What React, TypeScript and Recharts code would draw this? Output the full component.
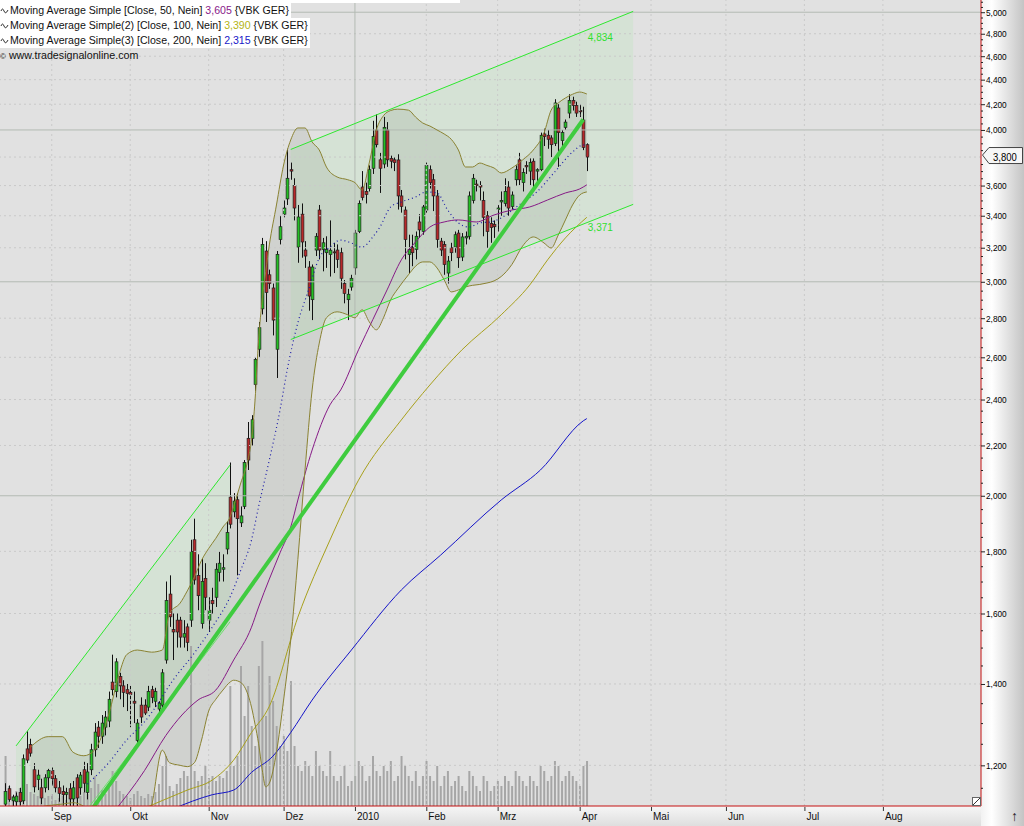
import React from 'react'
import {
  ComposedChart,
  Bar,
  Line,
  Area,
  XAxis,
  YAxis,
  ReferenceLine,
  ReferenceDot,
} from 'recharts'

if (typeof document !== 'undefined') document.body.style.margin = '0'

// time axis: one slot per trading day, Aug 2009 .. Aug 2010 (future months stay empty)
const SLOTS = 275
const FIRST = 1

// daily candles (EUR)
const opens = [
  1115, 1148, 1122, 1120, 1140, 1122, 1238, 1248, 1190, 1168,
  1150, 1150, 1172, 1188, 1170, 1150, 1142, 1136, 1148, 1126,
  1172, 1150, 1190, 1140, 1190, 1236, 1290, 1268, 1290, 1305,
  1405, 1380, 1420, 1395, 1385, 1378, 1355, 1258, 1345, 1345,
  1340, 1385, 1355, 1335, 1345, 1465, 1660, 1552, 1580, 1580,
  1530, 1560, 1580, 1840, 1720, 1570, 1710, 1580, 1640, 1650,
  1730, 1740, 1808, 1995, 1940, 1985, 1900, 1960, 2230, 2230,
  2470, 2640, 2850, 3180, 3040, 2965, 2640, 3250, 3410, 3510,
  3710, 3600, 3204, 3410, 3186, 3085, 2900, 3186, 3437, 3190,
  3170, 3160, 3175, 3186, 3170, 2990, 2900, 2970, 3080, 3300,
  3590, 3560, 3580, 3720, 4000, 3780, 3750, 4000, 3790, 3780,
  3779, 3530, 3437, 3160, 3200, 3190, 3360, 3300, 3437, 3710,
  3640, 3530, 3240, 3220, 3050, 3200, 3204, 3290, 3144, 3260,
  3270, 3500, 3610, 3600, 3500, 3400, 3350, 3345, 3440, 3490,
  3480, 3590, 3460, 3640, 3780, 3620, 3740, 3700, 3770, 3700,
  3710, 3970, 3960, 3940, 3900, 4170, 3920, 4020, 4130, 4230,
  4190, 4150, 4076, 3890,
]
const highs = [
  1160, 1155, 1135, 1140, 1150, 1225, 1280, 1262, 1205, 1190,
  1170, 1180, 1192, 1195, 1178, 1165, 1155, 1150, 1160, 1165,
  1180, 1185, 1208, 1205, 1250, 1300, 1305, 1320, 1330, 1380,
  1480, 1470, 1430, 1410, 1400, 1395, 1380, 1310, 1365, 1360,
  1395, 1395, 1390, 1355, 1440, 1700, 1720, 1600, 1600, 1590,
  1580, 1570, 1840, 1915, 1790, 1775, 1760, 1650, 1680, 1760,
  1800, 1790, 1905, 2130, 2010, 2010, 1960, 2140, 2300, 2330,
  2600, 2780, 3260, 3240, 3070, 2990, 3180, 3400, 3500, 3860,
  3760, 3650, 3470, 3480, 3240, 3120, 3100, 3290, 3470, 3260,
  3270, 3370, 3230, 3220, 3200, 3010, 2960, 3040, 3310, 3500,
  3700, 3620, 3740, 4070, 4120, 3830, 4100, 4060, 3810, 3800,
  3820, 3570, 3460, 3280, 3280, 3300, 3410, 3470, 3760, 3740,
  3680, 3570, 3260, 3240, 3150, 3230, 3300, 3310, 3290, 3300,
  3560, 3680, 3640, 3630, 3560, 3430, 3390, 3370, 3470, 3560,
  3650, 3630, 3560, 3740, 3830, 3720, 3770, 3790, 3790, 3720,
  3980, 4010, 4000, 3960, 4240, 4200, 4000, 4080, 4280, 4260,
  4220, 4200, 4180, 3900,
]
const lows = [
  1108, 1120, 1110, 1110, 1112, 1115, 1205, 1220, 1140, 1145,
  1115, 1140, 1145, 1155, 1140, 1120, 1112, 1110, 1108, 1108,
  1110, 1135, 1140, 1125, 1178, 1220, 1240, 1250, 1270, 1290,
  1370, 1365, 1360, 1340, 1330, 1290, 1300, 1250, 1300, 1320,
  1330, 1350, 1340, 1315, 1330, 1455, 1560, 1465, 1500, 1500,
  1500, 1490, 1560, 1690, 1610, 1555, 1610, 1545, 1600, 1620,
  1700, 1700, 1790, 1880, 1920, 1720, 1885, 1950, 2100, 2200,
  2440, 2600, 2820, 2780, 2960, 2710, 2500, 3220, 3390, 3470,
  3640, 3370, 3110, 3140, 3080, 2840, 2790, 3150, 3130, 3060,
  3080, 3030, 3050, 3080, 2960, 2880, 2790, 2950, 3040, 3290,
  3500, 3480, 3560, 3680, 3870, 3550, 3720, 3730, 3720, 3700,
  3440, 3420, 3130, 3050, 3090, 3130, 3260, 3280, 3420, 3580,
  3430, 3200, 3150, 3040, 2990, 3120, 3170, 3080, 3120, 3220,
  3250, 3480, 3560, 3500, 3270, 3200, 3230, 3260, 3300, 3400,
  3460, 3400, 3440, 3600, 3600, 3560, 3680, 3600, 3580, 3600,
  3700, 3880, 3860, 3800, 3880, 3730, 3880, 4000, 4090, 4150,
  4100, 4100, 3850, 3700,
]
const closes = [
  1142, 1125, 1130, 1132, 1120, 1215, 1212, 1228, 1152, 1178,
  1128, 1172, 1188, 1170, 1150, 1138, 1135, 1140, 1126, 1150,
  1128, 1178, 1160, 1185, 1236, 1278, 1268, 1300, 1315, 1360,
  1385, 1460, 1395, 1378, 1375, 1372, 1350, 1300, 1315, 1325,
  1380, 1365, 1380, 1350, 1430, 1640, 1590, 1545, 1545, 1530,
  1540, 1515, 1800, 1705, 1655, 1700, 1650, 1610, 1630, 1740,
  1760, 1745, 1865, 1895, 1980, 1915, 1925, 2130, 2140, 2310,
  2590, 2750, 3220, 2940, 2990, 2790, 3160, 3330, 3450, 3650,
  3700, 3450, 3392, 3235, 3150, 2920, 3085, 3270, 3186, 3230,
  3190, 3185, 3170, 3130, 3020, 2935, 2930, 3020, 3290, 3480,
  3520, 3540, 3710, 3950, 3890, 3720, 4020, 3780, 3770, 3760,
  3530, 3460, 3250, 3190, 3170, 3270, 3310, 3457, 3740, 3620,
  3530, 3250, 3186, 3100, 3120, 3170, 3280, 3140, 3266, 3270,
  3530, 3650, 3600, 3590, 3390, 3300, 3325, 3330, 3450, 3500,
  3560, 3450, 3536, 3710, 3640, 3690, 3730, 3760, 3640, 3710,
  3960, 3950, 3930, 3890, 4210, 3980, 3980, 4060, 4230, 4190,
  4130, 4140, 3870, 3800,
]
// volume, thousand shares
const volumes = [
  50, 20, 10, 15, 18, 25, 22, 14, 12, 10,
  15, 8, 10, 12, 6, 8, 10, 6, 12, 8,
  15, 10, 14, 12, 18, 30, 22, 16, 12, 20,
  35, 25, 15, 12, 10, 8, 12, 15, 10, 8,
  12, 10, 14, 22, 40, 50, 20, 15, 22, 28,
  35, 30, 160, 35, 25, 30, 40, 28, 30, 25,
  30, 28, 35, 120, 40, 50, 140, 90, 120, 80,
  60, 140, 165, 90, 130, 105, 80, 60, 70, 55,
  125, 60, 40, 35, 45, 40, 30, 55, 40, 35,
  30, 55, 30, 25, 30, 40, 20, 25, 30, 45,
  40, 25, 30, 50, 35, 30, 40, 35, 45, 25,
  30, 50, 40, 30, 25, 35, 20, 30, 45, 30,
  25, 40, 20, 30, 35, 20, 25, 30, 20, 15,
  35, 30, 20, 15, 30, 25, 15, 20, 25, 20,
  30, 25, 20, 35, 30, 25, 20, 30, 25, 20,
  40, 35, 25, 30, 45, 40, 25, 30, 35, 30,
  25, 20, 40, 45,
]

// Bollinger bands, sampled at these slots
const bbIdx = [
  8, 13, 17, 20, 23, 26, 30, 33, 35, 38, 40, 42, 45, 47, 50, 52, 54, 56, 58, 60,
  62, 64, 65, 67, 69, 70, 71, 72, 73, 74, 75, 77, 79, 81, 83, 85, 87, 89, 91, 94,
  97, 99, 101, 103, 105, 107, 109, 111, 114, 116, 118, 120, 122, 124, 126, 128, 130, 132, 134, 136,
  138, 140, 143, 146, 149, 152, 154, 156, 158, 160, 162, 164,
]
const bbUpper = [
  1242, 1267, 1267, 1230, 1222, 1235, 1322, 1430, 1480, 1493, 1490, 1487, 1493, 1600, 1632, 1670, 1715, 1770, 1810, 1845,
  1885, 1921, 1960, 2049, 2140, 2223, 2398, 2688, 2899, 3060, 3217, 3470, 3743, 3925, 4015, 4015, 3910, 3851, 3729, 3659,
  3640, 3620, 3570, 3757, 4000, 4110, 4150, 4161, 4153, 4099, 4053, 4030, 4000, 3970, 3930, 3851, 3729, 3729, 3757, 3740,
  3722, 3687, 3722, 3779, 3851, 3977, 4153, 4210, 4250, 4280, 4298, 4282,
]
const bbLower = [
  1105, 1112, 1115, 1118, 1110, 1090, 1040, 1010, 1000, 1020, 1060, 1111, 1235, 1206, 1200, 1197, 1206, 1259, 1330, 1360,
  1384, 1405, 1410, 1404, 1372, 1340, 1297, 1250, 1190, 1152, 1160, 1230, 1358, 1521, 1773, 2100, 2444, 2671, 2802, 2834,
  2818, 2802, 2845, 2781, 2739, 2802, 2899, 2960, 3040, 3090, 3115, 3115, 3080, 3011, 2943, 2954, 2971, 2980, 2985, 2993,
  3005, 3030, 3100, 3210, 3266, 3229, 3198, 3278, 3373, 3470, 3536, 3557,
]
const bbMidIdx = [
  24, 30, 35, 40, 42, 48, 54, 59, 64, 67, 70, 72, 75, 78, 80, 83, 86, 89, 92, 95,
  98, 101, 104, 106, 109, 112, 116, 119, 122, 125, 128, 131, 134, 137, 140, 145, 150, 155, 160, 163, 164,
]
const bbMid = [
  1158, 1206, 1259, 1303, 1326, 1410, 1485, 1559, 1651, 1737, 1839, 1960, 2140, 2353, 2538, 2776, 2954, 3139, 3204, 3247,
  3229, 3204, 3266, 3328, 3457, 3490, 3523, 3557, 3550, 3437, 3354, 3328, 3354, 3360, 3386, 3470, 3557, 3694, 3836, 3888, 3873,
]

// simple moving averages 50 / 100 / 200
const ma50Idx = [31, 40, 46, 55, 60, 65, 70, 72, 78, 81, 83, 87, 92, 95, 100, 104, 108, 112, 116, 120, 124, 128, 133, 138, 143, 148, 153, 158, 162, 164]
const ma50 = [1095, 1188, 1270, 1358, 1384, 1465, 1559, 1620, 1795, 1885, 1984, 2181, 2376, 2444, 2637, 2792, 2954, 3127, 3235, 3328, 3360, 3373, 3360, 3405, 3437, 3457, 3503, 3550, 3577, 3605]
const ma100Idx = [38, 52, 59, 65, 70, 75, 83, 92, 100, 112, 120, 129, 140, 148, 153, 158, 164]
const ma100 = [1100, 1145, 1167, 1212, 1277, 1342, 1589, 1839, 2060, 2309, 2467, 2637, 2818, 2982, 3127, 3260, 3390]
const ma200Idx = [48, 59, 65, 70, 76, 81, 87, 98, 112, 123, 140, 151, 163, 164]
const ma200 = [1105, 1135, 1145, 1184, 1221, 1277, 1358, 1493, 1673, 1787, 1984, 2100, 2305, 2315]

// hand drawn trend channels and trend line (two anchor points each)
const channelAIdx = [4, 64]
const channelAUpper = [1245, 2120]
const channelALower = [925, 1575]
const channelBIdx = [81, 177]
const channelBUpper = [3855, 5008]
const channelBLower = [2689, 3474]
const channelBTags = [4834, 3371]
const trendIdx = [20, 163]
const trendVals = [1050, 4080]

const monthIdx = [14, 36, 58, 79, 99, 119, 139, 162, 182, 203, 225, 247]
const monthLabels = ['Sep', 'Okt', 'Nov', 'Dez', '2010', 'Feb', 'Mrz', 'Apr', 'Mai', 'Jun', 'Jul', 'Aug']
const yearIdx = 99

const priceLabels = [1200, 1400, 1600, 1800, 2000, 2200, 2400, 2600, 2800, 3000, 3200, 3400, 3600, 3800, 4000, 4200, 4400, 4600, 4800, 5000]
const solidLevels = [2000, 3000, 4000, 5000]
const lastPrice = 3800

const legendRows = [
  { text: 'Moving Average Simple [Close, 50, Nein] ', value: '3,605', color: '#8a1a8a' },
  { text: 'Moving Average Simple(2) [Close, 100, Nein] ', value: '3,390', color: '#b4b414' },
  { text: 'Moving Average Simple(3) [Close, 200, Nein] ', value: '2,315', color: '#1818c8' },
]

const priceTicks: number[] = []
for (let v = 1150; v <= 5100; v += 50) priceTicks.push(v)

// build the row table the chart needs
const rows: Record<string, any>[] = []
for (let i = 0; i < SLOTS; i++) rows.push({ i })
opens.forEach((o, k) => {
  const r = rows[FIRST + k]
  r.o = o
  r.h = highs[k]
  r.l = lows[k]
  r.c = closes[k]
  r.candle = [lows[k], highs[k]]
  r.vol = volumes[k]
})
const put = (key: string, idx: number[], vals: number[]) =>
  idx.forEach((ix, k) => {
    rows[ix][key] = vals[k]
  })
put('bbU', bbIdx, bbUpper)
put('bbL', bbIdx, bbLower)
bbIdx.forEach((ix, k) => (rows[ix].bb = [bbLower[k], bbUpper[k]]))
put('bbM', bbMidIdx, bbMid)
put('ma50', ma50Idx, ma50)
put('ma100', ma100Idx, ma100)
put('ma200', ma200Idx, ma200)
put('chAU', channelAIdx, channelAUpper)
put('chAL', channelAIdx, channelALower)
channelAIdx.forEach((ix, k) => (rows[ix].chA = [channelALower[k], channelAUpper[k]]))
put('chBU', channelBIdx, channelBUpper)
put('chBL', channelBIdx, channelBLower)
channelBIdx.forEach((ix, k) => (rows[ix].chB = [channelBLower[k], channelBUpper[k]]))
put('trend', trendIdx, trendVals)

const FONT = '"Liberation Sans", Arial, sans-serif'

function Candle(props: any) {
  const { x, y, width, height, payload } = props
  if (!payload || payload.o == null) return null
  const top = Math.min(y, y + height)
  const h = Math.abs(height)
  const lh = Math.log(payload.h)
  const ll = Math.log(payload.l)
  const at = (v: number) => top + (h * (lh - Math.log(v))) / (lh - ll || 1)
  const cx = Math.round(x + width / 2) + 0.5
  const up = payload.c >= payload.o
  const yo = at(payload.o)
  const yc = at(payload.c)
  const bt = Math.min(yo, yc)
  const bh = Math.max(1, Math.abs(yo - yc))
  return (
    <g>
      <line x1={cx} x2={cx} y1={top} y2={top + h} stroke="#111" strokeWidth={1} />
      <rect x={cx - 1.4} y={bt} width={2.8} height={bh} fill={up ? '#22c022' : '#b8282a'} stroke="#202020" strokeWidth={0.7} />
    </g>
  )
}

function MonthTick(props: any) {
  const { x, y, payload } = props
  const k = monthIdx.indexOf(payload.value)
  if (k < 0) return null
  return (
    <g>
      <line x1={x + 0.5} x2={x + 0.5} y1={y + 1} y2={y + 5} stroke="#333" />
      <text x={x + 2} y={y + 14} fontSize={10} fontFamily={FONT} fill="#111">
        {monthLabels[k]}
      </text>
    </g>
  )
}

function PriceTick(props: any) {
  const { x, y, payload } = props
  const v = payload.value
  const major = priceLabels.includes(v)
  if (v === lastPrice) {
    return (
      <g>
        <path
          d={`M${x + 1.5},${y - 2} L${x + 8},${y - 9.5} H${x + 41.5} V${y + 6.5} H${x + 8} Z`}
          fill="#f6f6f6"
          stroke="#444"
        />
        <text transform={`translate(${x + 12},${y + 3.5}) scale(0.95,1)`} fontSize={10} fontFamily={FONT} fill="#000">
          {v.toLocaleString('en-US')}
        </text>
      </g>
    )
  }
  return (
    <g>
      <line x1={x} x2={x + (major ? 4 : 2)} y1={y + 0.5} y2={y + 0.5} stroke="#222" />
      {major && (
        <text transform={`translate(${x + 5},${y + 3.5}) scale(0.92,1)`} fontSize={9} fontFamily={FONT} fill="#000">
          {v.toLocaleString('en-US')}
        </text>
      )}
    </g>
  )
}

const Wave = () => (
  <svg width={9} height={10} style={{ verticalAlign: 'middle', marginRight: 1 }}>
    <path d="M1,5 Q2.5,1 4,5 T8,4" fill="none" stroke="#333" strokeWidth={1} />
  </svg>
)

export default function App() {
  const tagShape = (label: string) => (p: any) => (
    <text x={p.cx + 1} y={p.cy + 11} fontSize={10} fontFamily={FONT} fill="#2ee02e">
      {label}
    </text>
  )

  return (
    <div style={{ position: 'relative', width: 1024, height: 826, fontFamily: FONT, overflow: 'hidden' }}>
      <div style={{ position: 'absolute', left: 0, top: 0, width: 981, height: 806, background: '#e1e1e1' }} />
      <div
        style={{
          position: 'absolute',
          left: 981,
          top: 0,
          width: 43,
          height: 826,
          background: 'linear-gradient(to right, #f2f2f2, #ffffff 25%, #c4c4c4)',
        }}
      />
      <div
        style={{
          position: 'absolute',
          left: 0,
          top: 806,
          width: 981,
          height: 20,
          background: 'linear-gradient(to bottom, #f6f6f6, #dedede)',
        }}
      />

      <div style={{ position: 'absolute', left: 0, top: 0 }}>
        <ComposedChart width={1024} height={826} data={rows} margin={{ top: 0, right: 0, bottom: 0, left: 0 }} barCategoryGap="10%">
          <XAxis
            xAxisId="p"
            dataKey="i"
            type="category"
            ticks={monthIdx}
            interval={0}
            tick={<MonthTick />}
            tickLine={false}
            tickSize={0}
            tickMargin={0}
            height={20}
            axisLine={{ stroke: '#c41010' }}
          />
          <XAxis xAxisId="v" dataKey="i" type="category" hide />
          <YAxis
            yAxisId="p"
            orientation="right"
            scale="log"
            domain={[1111, 5117]}
            allowDataOverflow
            ticks={priceTicks}
            interval={0}
            tick={<PriceTick />}
            tickLine={false}
            tickSize={0}
            tickMargin={0}
            width={43}
            axisLine={{ stroke: '#c41010' }}
          />
          <YAxis yAxisId="v" domain={[0, 806]} hide />

          {priceLabels.map((v) => (
            <ReferenceLine
              key={'h' + v}
              xAxisId="p"
              yAxisId="p"
              y={v}
              stroke={solidLevels.includes(v) ? '#b3bab3' : '#c9c9c9'}
              strokeDasharray={solidLevels.includes(v) ? undefined : '2 3'}
            />
          ))}
          {monthIdx.map((ix) => (
            <ReferenceLine
              key={'v' + ix}
              xAxisId="p"
              yAxisId="p"
              x={ix}
              stroke={ix === yearIdx ? '#b3bab3' : '#cacaca'}
              strokeDasharray={ix === yearIdx ? undefined : '2 3'}
            />
          ))}

          <Bar xAxisId="v" yAxisId="v" dataKey="vol" fill="#a6a6a6" barSize={2} isAnimationActive={false} />

          <Area xAxisId="p" yAxisId="p" dataKey="chA" type="linear" connectNulls stroke="none" fill="#6cf06c" fillOpacity={0.1} isAnimationActive={false} />
          <Area xAxisId="p" yAxisId="p" dataKey="chB" type="linear" connectNulls stroke="none" fill="#6cf06c" fillOpacity={0.1} isAnimationActive={false} />
          <Area xAxisId="p" yAxisId="p" dataKey="bb" type="monotone" connectNulls stroke="none" fill="#7e8a74" fillOpacity={0.16} isAnimationActive={false} />

          <Line xAxisId="p" yAxisId="p" dataKey="ma200" type="monotone" connectNulls dot={false} stroke="#1414c8" strokeWidth={1} isAnimationActive={false} />
          <Line xAxisId="p" yAxisId="p" dataKey="ma100" type="monotone" connectNulls dot={false} stroke="#a8a01c" strokeWidth={1} isAnimationActive={false} />
          <Line xAxisId="p" yAxisId="p" dataKey="ma50" type="monotone" connectNulls dot={false} stroke="#861a86" strokeWidth={1} isAnimationActive={false} />
          <Line xAxisId="p" yAxisId="p" dataKey="bbU" type="monotone" connectNulls dot={false} stroke="#8a8232" strokeWidth={1} isAnimationActive={false} />
          <Line xAxisId="p" yAxisId="p" dataKey="bbL" type="monotone" connectNulls dot={false} stroke="#8a8232" strokeWidth={1} isAnimationActive={false} />
          <Line xAxisId="p" yAxisId="p" dataKey="bbM" type="monotone" connectNulls dot={false} stroke="#1a1aa8" strokeWidth={1.2} strokeDasharray="1 3" isAnimationActive={false} />

          <Bar xAxisId="p" yAxisId="p" dataKey="candle" shape={<Candle />} isAnimationActive={false} />

          <Line xAxisId="p" yAxisId="p" dataKey="chAU" type="linear" connectNulls dot={false} stroke="#2ee82e" strokeWidth={1} isAnimationActive={false} />
          <Line xAxisId="p" yAxisId="p" dataKey="chAL" type="linear" connectNulls dot={false} stroke="#6ee06e" strokeWidth={1} isAnimationActive={false} />
          <Line xAxisId="p" yAxisId="p" dataKey="chBU" type="linear" connectNulls dot={false} stroke="#2ee82e" strokeWidth={1} isAnimationActive={false} />
          <Line xAxisId="p" yAxisId="p" dataKey="chBL" type="linear" connectNulls dot={false} stroke="#2ee82e" strokeWidth={1} isAnimationActive={false} />
          <Line xAxisId="p" yAxisId="p" dataKey="trend" type="linear" connectNulls dot={false} stroke="#3fcc3f" strokeWidth={4} isAnimationActive={false} />

          <ReferenceDot xAxisId="p" yAxisId="p" x={164} y={channelBTags[0]} r={0} shape={tagShape(channelBTags[0].toLocaleString('en-US'))} />
          <ReferenceDot xAxisId="p" yAxisId="p" x={164} y={channelBTags[1]} r={0} shape={tagShape(channelBTags[1].toLocaleString('en-US'))} />
        </ComposedChart>
      </div>

      {/* legend block, top left */}
      <div style={{ position: 'absolute', left: 0, top: 0, width: 460, height: 3, background: '#fff' }} />
      {legendRows.map((r, k) => (
        <div
          key={k}
          style={{
            position: 'absolute',
            left: 0,
            top: 3 + k * 15,
            height: 15,
            lineHeight: '15px',
            background: '#fff',
            fontSize: 10.6,
            color: '#111',
            whiteSpace: 'nowrap',
            paddingRight: 2,
          }}
        >
          <Wave />
          {r.text}
          <span style={{ color: r.color }}>{r.value}</span> {'{VBK GER}'}
        </div>
      ))}
      <div style={{ position: 'absolute', left: 0, top: 48, fontSize: 10.7, lineHeight: '15px', color: '#111', whiteSpace: 'nowrap' }}>
        <span style={{ fontSize: 8, marginRight: 3 }}>©</span>www.tradesignalonline.com
      </div>

      {/* corner widgets */}
      <svg style={{ position: 'absolute', left: 972, top: 797 }} width={9} height={9}>
        <rect x={0.5} y={0.5} width={8} height={8} fill="#fff" stroke="#666" />
        <line x1={1} y1={8} x2={8} y2={1} stroke="#333" />
      </svg>
      <div style={{ position: 'absolute', left: 1011, top: 808, fontSize: 14, color: '#222' }}>↑</div>
    </div>
  )
}
